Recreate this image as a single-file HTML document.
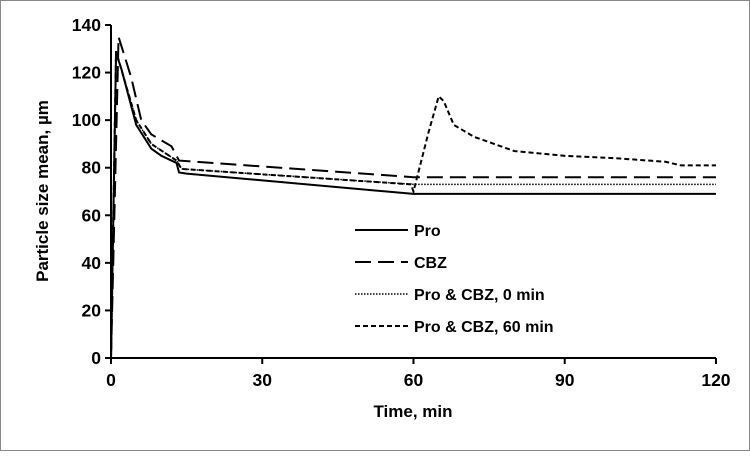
<!DOCTYPE html>
<html><head><meta charset="utf-8"><style>
body{margin:0;background:#fff}
svg text{font-family:"Liberation Sans",Arial,sans-serif;font-weight:bold;fill:#000}
</style></head><body>
<svg id="chart" width="750" height="451" viewBox="0 0 750 451">
<rect x="0.5" y="0.5" width="749" height="450" fill="#fff" stroke="#888"/>
<g id="axes"></g>
<g id="series"></g>
<g id="legend"></g>
<text x="413" y="417" font-size="17" text-anchor="middle">Time, min</text>
<text transform="translate(48,191) rotate(-90)" font-size="17" text-anchor="middle">Particle size mean, µm</text>
</svg>
<script>
const xTicks=[0,30,60,90,120];
const yTicks=[0,20,40,60,80,100,120,140];
const seriesNames=["Pro","CBZ","Pro & CBZ, 0 min","Pro & CBZ, 60 min"];
const proX=[0,1,2,5,8,10,13,13.5,15,60,120];
const proY=[0,128,122,98,88,85,82,78,77.5,69,69];
const cbzX=[0,1.5,4,6,8,12,13.5,60,120];
const cbzY=[0,135,118,100,94,89,83,76,76];
const pc0X=[0,1,5,8,13,14,60,120];
const pc0Y=[0,129,100,90,83,79.5,73,73];
const pc60X=[0,1,5,8,13,14,59.5,60,63,65,66,68,72,80,90,100,110,113,120];
const pc60Y=[0,129,100,90,83,79.5,73,70,95,110,108,98,93,87,85,84,82.5,81,81];
const X0=111,X1=721,Y0=358,Y1=25;
const sx=v=>X0+(v-0)/(121-0)*(X1-X0);
const sy=v=>Y0-(v-0)/(140-0)*(Y0-Y1);
const NS="http://www.w3.org/2000/svg";
function mk(tag,attrs,parent){const e=document.createElementNS(NS,tag);for(const k in attrs)e.setAttribute(k,attrs[k]);parent.appendChild(e);return e;}
const axes=document.getElementById('axes');
let a=mk('line',{x1:X0,y1:Y1,x2:X0,y2:Y0,stroke:'#000','stroke-width':2},axes);


a=mk('line',{x1:X0,y1:Y0,x2:sx(120),y2:Y0,stroke:'#000','stroke-width':2},axes);


yTicks.forEach(t=>{
 const tk=mk('line',{x1:X0-6,y1:sy(t),x2:X0,y2:sy(t),stroke:'#000','stroke-width':2},axes);
 
 
 const tx=mk('text',{x:X0-10,y:sy(t)+6,'font-size':17.5,'text-anchor':'end'},axes);
 tx.textContent=t;
 
 
});
xTicks.forEach(t=>{
 const tk=mk('line',{x1:sx(t),y1:Y0,x2:sx(t),y2:Y0+6,stroke:'#000','stroke-width':2},axes);
 
 
 const tx=mk('text',{x:sx(t),y:Y0+28,'font-size':17.5,'text-anchor':'middle'},axes);
 tx.textContent=t;
 
 
});
const styles=[{w:2,d:''},{w:2,d:'16,7'},{w:1.5,d:'1.5,1.5'},{w:2,d:'5,3'}];
const data=[[proX,proY],[cbzX,cbzY],[pc0X,pc0Y],[pc60X,pc60Y]];
const names=['series-pro','series-cbz','series-pro-cbz-0min','series-pro-cbz-60min'];
const sg=document.getElementById('series');
data.forEach((d,i)=>{
 const pts=d[0].map((x,j)=>sx(x)+','+sy(d[1][j])).join(' ');
 const p=mk('polyline',{points:pts,fill:'none',stroke:'#000','stroke-width':styles[i].w,'stroke-dasharray':styles[i].d},sg);
 
 
});
const lg=document.getElementById('legend');
seriesNames.forEach((n,i)=>{
 const y=230+i*32;
 const l=mk('line',{x1:355,y1:y,x2:408,y2:y,stroke:'#000','stroke-width':styles[i].w,'stroke-dasharray':styles[i].d},lg);
 
 
 const t=mk('text',{x:414,y:y+6,'font-size':16},lg);
 t.textContent=n;
 
 
});
</script>
</body></html>
